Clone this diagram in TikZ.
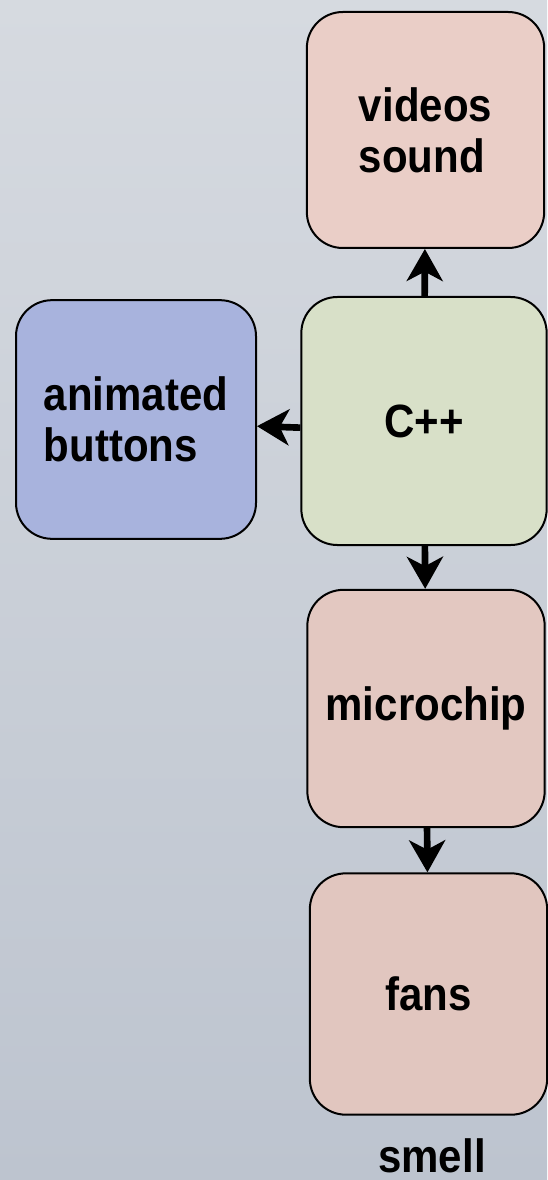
\documentclass[tikz,border=0pt]{standalone}
\usepackage{fontspec}
\setmainfont{Liberation Sans}
\newfontfamily\boxfont[FakeStretch=0.9]{Liberation Sans}
\usetikzlibrary{arrows.meta}

\definecolor{bgtop}{RGB}{214,218,224}
\definecolor{bgbot}{RGB}{189,196,207}
\definecolor{pinkfill}{RGB}{234,206,199}
\definecolor{greenfill}{RGB}{216,224,200}
\definecolor{bluefill}{RGB}{168,179,221}

\tikzset{every picture/.style={line width=0.75pt}}
\tikzset{
  box/.style={draw, line width=1.5pt, rounded corners=27pt, align=left,
    inner sep=0pt, font=\boxfont\fontsize{35}{38}\selectfont\bfseries},
  link/.style={line width=5pt, -{Stealth[length=24pt,width=27pt,inset=7pt]}}
}

\begin{document}
\begin{tikzpicture}[x=0.75pt,y=0.75pt,yscale=-1,xscale=1]
\useasboundingbox (0,0) rectangle (547,1180);
%background
\shade [top color=bgtop, bottom color=bgbot] (0,0) rectangle (547,1180);

%boxes
\node [box, fill=pinkfill, minimum width=178pt, minimum height=177pt] (videos) at (425.5,130) {videos\\sound};
\node [box, fill=greenfill, minimum width=184pt, minimum height=186pt] (cpp) at (424,421) {C++};
\node [box, fill=bluefill, minimum width=180pt, minimum height=179pt] (buttons) at (136,419.5) {animated\\buttons};
\node [box, fill=pinkfill!97!black, minimum width=178pt, minimum height=178pt] (chip) at (426,708.5) {microchip};
\node [box, fill=pinkfill!96!black, minimum width=178pt, minimum height=181pt] (fans) at (428.5,994) {fans};
% Text Node
\node [font=\boxfont\fontsize{35}{38}\selectfont\bfseries, anchor=base, inner sep=0pt, text depth=0pt] (smell) at (432,1172) {smell};

%links
\draw [link] (cpp) -- (videos);
\draw [link] ([yshift=5pt]cpp.west) -- ([yshift=5pt]buttons.east);
\draw [link] (cpp) -- (chip);
\draw [link] (chip) -- (fans);

\end{tikzpicture}
\end{document}
